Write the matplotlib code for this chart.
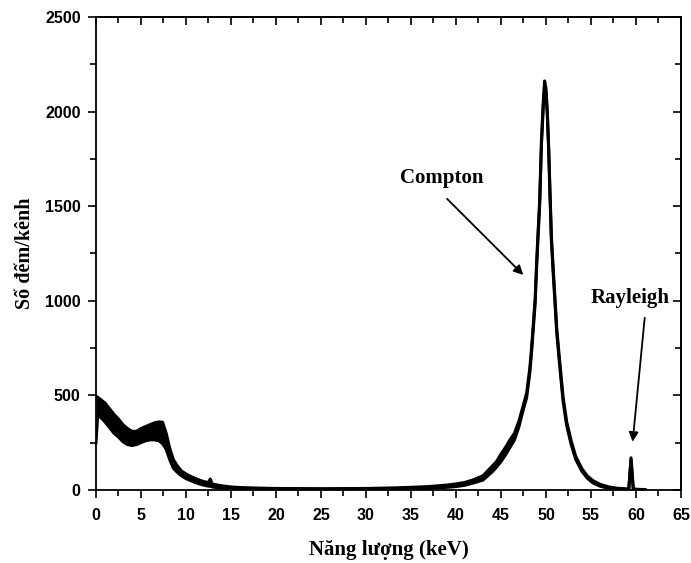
import matplotlib
matplotlib.use("Agg")
import matplotlib.pyplot as plt
from matplotlib.ticker import MultipleLocator, NullFormatter

# spectrum: energy (keV), lower and upper edge of the noisy band (counts)
energy_kev = [0.0, 0.2, 0.6, 1.0, 1.5, 2.0, 2.5, 3.0, 3.5, 4.0, 4.5, 5.0, 5.5, 6.0, 6.5,
              7.0, 7.4, 7.8, 8.2, 8.6, 9.0, 9.5, 10.0, 10.5, 11.0, 11.5, 12.0, 12.5, 12.7,
              12.9, 13.5, 14.0, 15.0, 16.0, 18.0, 20.0, 25.0, 30.0, 33.0, 35.0, 37.0, 39.0,
              40.0, 41.0, 42.0, 43.0, 44.0, 44.5, 45.0, 45.5, 46.0, 46.5, 47.0, 47.5, 47.85,
              48.2, 48.4, 48.6, 48.8, 48.95, 49.1, 49.3, 49.5, 49.7, 49.85, 50.0, 50.15, 50.3,
              50.45, 50.6, 50.8, 51.0, 51.2, 51.5, 51.9, 52.3, 52.8, 53.3, 54.0, 54.6, 55.2,
              56.0, 57.0, 58.0, 59.0, 59.2, 59.45, 59.7, 60.0, 61.0]
counts_lo = [250, 400, 380, 360, 330, 300, 280, 255, 240, 235, 240, 250, 260, 265, 265,
             260, 245, 215, 160, 115, 95, 75, 60, 50, 40, 32, 25, 20, 20,
             16, 12, 9, 6, 4, 2, 1, 1, 2, 4, 6, 9, 14,
             18, 25, 38, 52, 95, 120, 150, 185, 225, 265, 335, 428, 488,
             618, 728, 858, 988, 1168, 1318, 1508, 1828, 2028, 2138, 2098, 1978, 1788,
             1548, 1318, 1148, 988, 828, 668, 468, 340, 240, 162, 98, 62, 38,
             20, 8, 3, 2, 2, 160, 2, 0, 0]
counts_hi = [495, 490, 475, 460, 430, 400, 375, 345, 325, 310, 310, 325, 335, 345, 355,
             360, 358, 300, 220, 160, 130, 100, 85, 72, 62, 52, 44, 40, 58,
             32, 26, 22, 16, 13, 10, 8, 7, 8, 11, 14, 18, 26,
             32, 40, 55, 75, 125, 150, 190, 225, 265, 300, 365, 452, 512,
             642, 752, 882, 1012, 1192, 1342, 1532, 1852, 2052, 2162, 2122, 2002, 1812,
             1572, 1342, 1172, 1012, 852, 692, 492, 360, 260, 178, 112, 74, 50,
             30, 16, 9, 6, 8, 170, 8, 4, 2]

x_ticks = [0, 5, 10, 15, 20, 25, 30, 35, 40, 45, 50, 55, 60, 65]
y_ticks = [0, 500, 1000, 1500, 2000, 2500]

serif = ['Liberation Serif', 'DejaVu Serif']
sans = ['Liberation Sans', 'DejaVu Sans']

fig = plt.figure(figsize=(6.91, 5.63), dpi=100)
ax = fig.add_axes([0.1389, 0.1297, 0.8466, 0.8401])

ax.fill_between(energy_kev, counts_lo, counts_hi, color='black', lw=0)
ax.plot(energy_kev, counts_lo, color='black', lw=2.2)
ax.plot(energy_kev, counts_hi, color='black', lw=2.2)

ax.set_xlim(0, 65)
ax.set_ylim(0, 2500)
ax.set_xticks(x_ticks)
ax.set_yticks(y_ticks)
ax.xaxis.set_minor_locator(MultipleLocator(2.5))
ax.yaxis.set_minor_locator(MultipleLocator(250))
ax.tick_params(which='both', direction='out', width=1.2, top=False, right=False)
ax.tick_params(which='major', length=6)
ax.tick_params(which='minor', length=4)
ax.tick_params(axis='x', which='major', pad=7)
ax.tick_params(axis='y', which='major', pad=5)
for lab in ax.get_xticklabels() + ax.get_yticklabels():
    lab.set_family(sans)
    lab.set_fontweight('bold')
    lab.set_fontsize(11.5)
for s in ax.spines.values():
    s.set_linewidth(1.3)

# mirrored inward ticks on top and right, no labels
top = ax.secondary_xaxis('top')
top.set_xticks(x_ticks)
top.xaxis.set_minor_locator(MultipleLocator(2.5))
top.xaxis.set_major_formatter(NullFormatter())
top.tick_params(which='both', direction='in', width=1.2)
top.tick_params(which='major', length=6)
top.tick_params(which='minor', length=4)
right = ax.secondary_yaxis('right')
right.set_yticks(y_ticks)
right.yaxis.set_minor_locator(MultipleLocator(250))
right.yaxis.set_major_formatter(NullFormatter())
right.tick_params(which='both', direction='in', width=1.2)
right.tick_params(which='major', length=6)
right.tick_params(which='minor', length=4)
top.spines['top'].set_linewidth(1.3)
right.spines['right'].set_linewidth(1.3)

ax.set_xlabel('Năng lượng (keV)', family=serif, fontweight='bold', fontsize=15, labelpad=12)
ax.set_ylabel('Số đếm/kênh', family=serif, fontweight='bold', fontsize=14.5, labelpad=7)

ax.annotate('', xy=(47.7, 1126), xytext=(38.8, 1549),
            arrowprops=dict(arrowstyle='-|>', color='black', lw=1.3, mutation_scale=14))
ax.text(38.4, 1649, 'Compton', family=serif, fontweight='bold', fontsize=15,
        ha='center', va='center')
ax.annotate('', xy=(59.6, 240), xytext=(61.0, 925),
            arrowprops=dict(arrowstyle='-|>', color='black', lw=1.3, mutation_scale=14))
ax.text(59.3, 1015, 'Rayleigh', family=serif, fontweight='bold', fontsize=15,
        ha='center', va='center')

fig.savefig('out.png', dpi=100)
